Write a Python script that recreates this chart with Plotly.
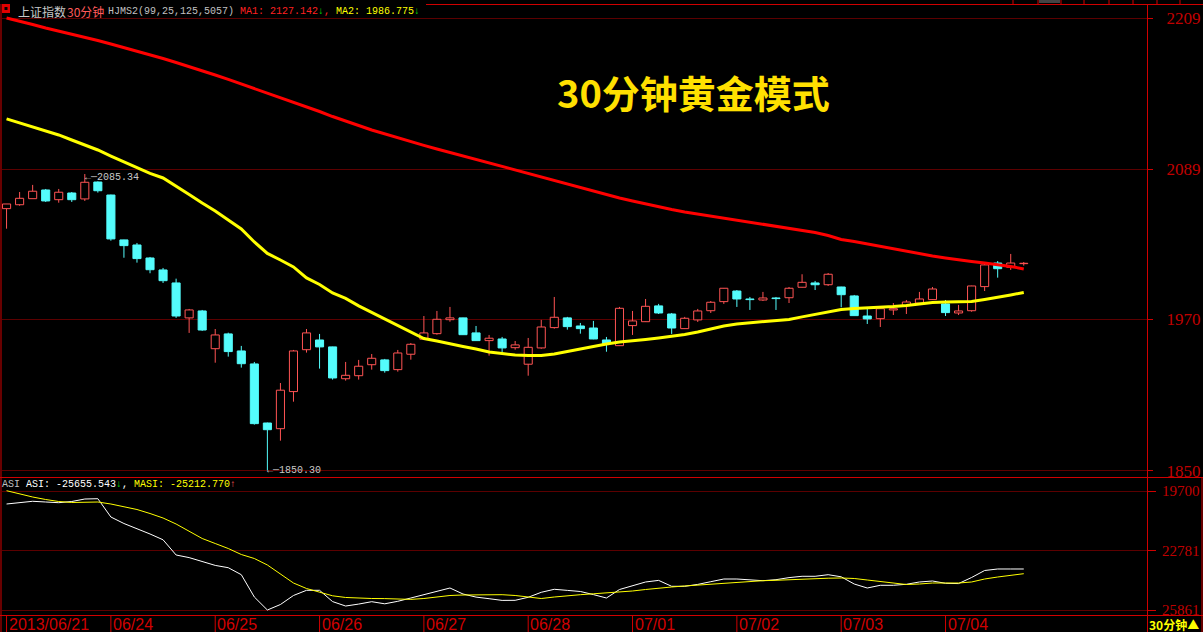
import plotly.graph_objects as go

# ---------------- data ----------------
day_labels = ["2013/06/21", "06/24", "06/25", "06/26", "06/27", "06/28",
              "07/01", "07/02", "07/03", "07/04"]
bars_per_day = 8

opens = [2057.9, 2061.0, 2065.8, 2072.7, 2065.0, 2070.3, 2065.6, 2079.0, 2068.7, 2033.1,
         2029.1, 2018.8, 2009.3, 1999.0, 1971.3, 1976.8, 1946.9, 1958.6, 1945.1, 1934.8,
         1888.0, 1883.5, 1912.9, 1946.1, 1953.8, 1948.3, 1923.1, 1925.5, 1934.2, 1938.0,
         1930.3, 1942.5, 1954.4, 1958.8, 1969.9, 1971.3, 1959.4, 1953.3, 1954.6, 1947.7,
         1934.6, 1947.5, 1963.6, 1971.3, 1964.9, 1963.3, 1953.8, 1949.3, 1965.2, 1968.3,
         1980.8, 1974.4, 1962.8, 1969.7, 1977.0, 1984.2, 1992.6, 1986.3, 1985.5, 1987.1,
         1987.3, 1995.6, 1999.0, 1997.6, 1995.8, 1988.7, 1972.8, 1970.7, 1977.6, 1981.0,
         1983.1, 1985.8, 1982.4, 1975.2, 1977.0, 1996.1, 2014.8, 2011.4, 2014.3]
highs = [2061.6, 2071.1, 2076.7, 2073.5, 2073.5, 2071.1, 2085.34, 2079.5, 2069.0, 2033.3,
         2030.7, 2019.6, 2010.9, 2002.4, 1978.4, 1977.6, 1962.5, 1959.6, 1949.1, 1936.4,
         1888.3, 1919.7, 1945.9, 1962.5, 1958.6, 1948.5, 1936.4, 1938.0, 1942.7, 1938.8,
         1945.9, 1951.4, 1972.8, 1976.8, 1980.0, 1971.5, 1964.9, 1957.8, 1956.2, 1953.0,
         1955.4, 1969.7, 1987.9, 1972.1, 1967.3, 1968.9, 1956.2, 1980.0, 1976.8, 1986.3,
         1982.4, 1975.2, 1972.1, 1978.4, 1984.7, 1995.0, 1993.4, 1987.9, 1991.9, 1987.9,
         1995.8, 2005.9, 2000.6, 2006.9, 1996.0, 1989.5, 1978.4, 1978.8, 1983.1, 1985.5,
         1991.9, 1995.8, 1985.5, 1981.6, 1996.8, 2014.1, 2016.4, 2022.0, 2015.6]
lows = [2042.0, 2060.2, 2065.8, 2063.2, 2062.6, 2063.2, 2064.0, 2070.6, 2032.5, 2019.0,
        2015.1, 2006.7, 1999.0, 1971.3, 1959.4, 1961.0, 1935.8, 1940.6, 1931.9, 1886.7,
        1850.30, 1874.0, 1904.9, 1943.8, 1931.1, 1922.4, 1921.6, 1922.4, 1930.3, 1927.9,
        1928.7, 1938.2, 1953.8, 1958.0, 1968.3, 1957.8, 1953.0, 1941.4, 1944.1, 1946.1,
        1925.5, 1946.9, 1962.8, 1962.0, 1958.8, 1954.4, 1944.5, 1949.1, 1957.8, 1968.1,
        1974.4, 1958.6, 1962.6, 1968.1, 1975.2, 1982.4, 1980.0, 1977.6, 1984.7, 1977.6,
        1983.1, 1995.4, 1993.4, 1996.6, 1979.7, 1972.9, 1966.5, 1964.1, 1973.6, 1974.4,
        1982.9, 1985.6, 1972.8, 1973.6, 1976.2, 1992.6, 2003.2, 2009.3, 2012.7]
closes = [2061.6, 2066.1, 2071.7, 2064.0, 2070.9, 2065.0, 2078.8, 2072.1, 2033.9, 2028.6,
          2018.3, 2009.5, 2000.8, 1972.8, 1977.6, 1961.7, 1957.8, 1944.6, 1935.0, 1887.5,
          1882.7, 1914.0, 1945.1, 1959.4, 1948.3, 1923.7, 1925.8, 1933.0, 1939.3, 1929.5,
          1943.5, 1950.4, 1959.4, 1970.2, 1971.3, 1958.0, 1953.3, 1955.2, 1947.5, 1949.9,
          1948.0, 1964.1, 1971.8, 1964.4, 1962.8, 1954.6, 1950.7, 1978.9, 1968.9, 1980.5,
          1975.2, 1963.3, 1971.0, 1976.8, 1983.7, 1994.8, 1986.3, 1985.8, 1987.1, 1986.6,
          1994.8, 1999.5, 1997.6, 2005.9, 1989.7, 1973.1, 1970.5, 1978.6, 1978.6, 1983.9,
          1986.3, 1994.2, 1975.5, 1976.8, 1996.6, 2013.3, 2010.3, 2014.8, 2014.6]

ma1 = [2209.0, 2206.6, 2203.9, 2201.1, 2198.7, 2196.3, 2193.9, 2191.2, 2188.4, 2185.6,
       2182.9, 2179.7, 2176.9, 2173.7, 2170.6, 2167.4, 2163.8, 2160.3, 2156.7, 2153.1,
       2149.6, 2146.0, 2142.4, 2138.9, 2134.9, 2130.9, 2127.1, 2123.8, 2120.2, 2117.1,
       2113.9, 2110.7, 2108.0, 2105.2, 2102.4, 2099.6, 2096.9, 2094.1, 2091.3, 2088.5,
       2085.8, 2083.0, 2080.2, 2077.4, 2074.7, 2071.9, 2069.1, 2066.4, 2064.0, 2061.6,
       2059.2, 2057.2, 2055.3, 2053.7, 2052.1, 2050.5, 2048.9, 2047.4, 2045.8, 2044.2,
       2042.6, 2041.0, 2039.0, 2036.6, 2033.5, 2031.9, 2029.9, 2027.9, 2025.9, 2023.9,
       2022.0, 2020.4, 2018.8, 2017.2, 2016.0, 2014.8, 2013.6, 2012.1, 2010.1]
ma2 = [2129.0, 2125.8, 2122.6, 2119.5, 2116.3, 2112.3, 2108.4, 2104.4, 2099.6, 2094.9,
       2090.1, 2085.8, 2082.2, 2075.9, 2069.1, 2062.4, 2056.1, 2048.9, 2041.8, 2031.5,
       2022.4, 2017.2, 2011.7, 2003.0, 1997.8, 1991.1, 1986.8, 1980.8, 1975.6, 1970.5,
       1965.3, 1960.2, 1955.0, 1953.0, 1950.6, 1948.7, 1946.7, 1944.3, 1943.1, 1941.9,
       1941.5, 1941.5, 1942.7, 1944.7, 1947.1, 1949.1, 1950.6, 1952.2, 1953.0, 1954.2,
       1955.4, 1956.6, 1958.2, 1960.2, 1962.5, 1964.9, 1966.5, 1967.3, 1968.1, 1968.9,
       1970.1, 1972.1, 1974.0, 1976.4, 1978.0, 1978.8, 1979.2, 1979.6, 1980.4, 1981.2,
       1982.4, 1983.5, 1983.9, 1983.9, 1984.3, 1985.9, 1987.5, 1989.5, 1991.5]

asi = [-20373, -20295, -20233, -20270, -20306, -20244, -20114, -20099, -21046, -21383,
       -21636, -21926, -22226, -23013, -23148, -23345, -23552, -23671, -24033, -25188,
       -25861, -25577, -25110, -24841, -24841, -25426, -25655.543, -25555, -25431, -25540,
       -25411, -25240, -25069, -24888, -24722, -25033, -25193, -25276, -25364, -25359,
       -25203, -24945, -24789, -24846, -24903, -25064, -25240, -24800, -24587, -24411,
       -24328, -24634, -24634, -24536, -24396, -24256, -24256, -24308, -24344, -24292,
       -24184, -24116, -24116, -24033, -24142, -24515, -24722, -24582, -24582, -24530,
       -24411, -24360, -24479, -24494, -24178, -23816, -23738, -23738, -23738]
masi = [-19684, -19855, -20011, -20140, -20244, -20295, -20295, -20270, -20373, -20502,
        -20658, -20865, -21098, -21409, -21797, -22159, -22418, -22677, -22988, -23195,
        -23531, -23997, -24463, -24748, -24955, -25126, -25212.770, -25255, -25266, -25271,
        -25302, -25312, -25266, -25188, -25110, -25084, -25069, -25064, -25069, -25110,
        -25188, -25266, -25188, -25110, -25069, -25022, -24981, -24955, -24877, -24800,
        -24722, -24670, -24618, -24567, -24515, -24473, -24427, -24385, -24344, -24323,
        -24292, -24246, -24230, -24215, -24204, -24230, -24308, -24385, -24463, -24541,
        -24515, -24463, -24463, -24463, -24411, -24256, -24153, -24075, -23982]

price_ticks = [1850, 1970, 2089, 2209]
asi_ticks = [-19700, -22781, -25861]
asi_tick_text = ["19700", "22781", "25861"]

ma1_now, ma2_now = 2127.142, 1986.775
asi_now, masi_now = -25655.543, -25212.770
high_mark, low_mark = 2085.34, 1850.30

# ---------------- styling ----------------
W, H = 1203, 632
ML, MR, MT, MB = 2, 56, 4, 17
PW, PH = W - ML - MR, H - MT - MB


def px(x):
    return (x - ML) / PW


def py(y):
    return (H - MB - y) / PH


UP = "#ff5454"
DN = "#54fcfc"
BORDER = "#d00000"
GRID = "#5c0000"
TICKC = "#c00000"
MONO = "Liberation Mono, DejaVu Sans Mono, monospace"
CJK = "Noto Sans CJK SC, sans-serif"

n = len(opens)
idx = list(range(n))
up = [i for i in idx if closes[i] >= opens[i]]
dn = [i for i in idx if closes[i] < opens[i]]

fig = go.Figure()


def body_trace(ids, fill, edge):
    return go.Bar(
        x=ids,
        base=[min(opens[i], closes[i]) for i in ids],
        y=[max(abs(closes[i] - opens[i]), 0.3) for i in ids],
        width=0.62,
        marker=dict(color=fill, line=dict(color=edge, width=1)),
        xaxis="x", yaxis="y", hoverinfo="skip",
    )


def wick_trace(ids, color):
    xs, ys = [], []
    for i in ids:
        top = max(opens[i], closes[i])
        bot = min(opens[i], closes[i])
        xs += [i, i, None, i, i, None]
        ys += [highs[i], top, None, bot, lows[i], None]
    return go.Scatter(x=xs, y=ys, mode="lines", line=dict(color=color, width=1),
                      xaxis="x", yaxis="y", hoverinfo="skip")


fig.add_trace(wick_trace(up, UP))
fig.add_trace(wick_trace(dn, DN))
fig.add_trace(body_trace(up, "#000000", UP))
fig.add_trace(body_trace(dn, DN, DN))
fig.add_trace(go.Scatter(x=idx, y=ma1, mode="lines", line=dict(color="#ff0000", width=3),
                         xaxis="x", yaxis="y", hoverinfo="skip"))
fig.add_trace(go.Scatter(x=idx, y=ma2, mode="lines", line=dict(color="#ffff00", width=3),
                         xaxis="x", yaxis="y", hoverinfo="skip"))
fig.add_trace(go.Scatter(x=idx, y=asi, mode="lines", line=dict(color="#ffffff", width=1),
                         xaxis="x2", yaxis="y2", hoverinfo="skip"))
fig.add_trace(go.Scatter(x=idx, y=masi, mode="lines", line=dict(color="#ffff00", width=1),
                         xaxis="x2", yaxis="y2", hoverinfo="skip"))

xr = [-0.35, 87.45]
axis_common = dict(range=xr, visible=False, fixedrange=True)

annotations = []
# header line of main panel
annotations.append(dict(xref="paper", yref="paper", x=px(16), y=py(11), xanchor="left",
                        yanchor="middle", showarrow=False, text="上证指数",
                        font=dict(family=CJK, size=12, color="#c8c8c8")))
annotations.append(dict(xref="paper", yref="paper", x=px(64.5), y=py(11), xanchor="left",
                        yanchor="middle", showarrow=False, text="30分钟",
                        font=dict(family=CJK, size=12, color="#ff5a5a")))
hdr = ("HJMS2(99,25,125,5057) "
       f"<span style='color:#ff2020'>MA1: {ma1_now:.3f}</span>"
       "<span style='color:#00e000'>↓</span><span style='color:#ff2020'>,</span> "
       f"<span style='color:#ffff00'>MA2: {ma2_now:.3f}</span>"
       "<span style='color:#00e000'>↓</span>")
annotations.append(dict(xref="paper", yref="paper", x=px(106), y=py(11), xanchor="left",
                        yanchor="middle", showarrow=False, text=hdr,
                        font=dict(family=MONO, size=10, color="#c0c0c0")))
# header of ASI panel
hdr2 = ("<span style='color:#c0c0c0'>ASI</span> "
        f"<span style='color:#ffffff'>ASI: {asi_now:.3f}</span>"
        "<span style='color:#00e000'>↓</span><span style='color:#ffffff'>,</span> "
        f"<span style='color:#ffff00'>MASI: {masi_now:.3f}</span>"
        "<span style='color:#ff5a5a'>↑</span>")
annotations.append(dict(xref="paper", yref="paper", x=px(0), y=py(484), xanchor="left",
                        yanchor="middle", showarrow=False, text=hdr2,
                        font=dict(family=MONO, size=10, color="#ffffff")))
# title
annotations.append(dict(xref="paper", yref="paper", x=px(693), y=py(92), xanchor="center",
                        yanchor="middle", showarrow=False, text="30分钟黄金模式",
                        font=dict(family=CJK, size=38, color="#ffe000", weight="bold")))
# high / low markers
hi_i = highs.index(max(highs))
lo_i = lows.index(min(lows))
annotations.append(dict(xref="x", yref="y", x=hi_i, y=high_mark, xanchor="left",
                        yanchor="middle", showarrow=False, xshift=-2, yshift=-3,
                        text=f"←─{high_mark:.2f}",
                        font=dict(family=MONO, size=10, color="#c8c8c8")))
annotations.append(dict(xref="x", yref="y", x=lo_i, y=low_mark, xanchor="left",
                        yanchor="middle", showarrow=False, xshift=-2,
                        text=f"←─{low_mark:.2f}",
                        font=dict(family=MONO, size=10, color="#c8c8c8")))
# date labels
shapes = []
for d, lab in enumerate(day_labels):
    xi = d * bars_per_day
    annotations.append(dict(xref="x", yref="paper", x=xi, y=py(624), xanchor="left",
                            yanchor="middle", showarrow=False, xshift=0, text=lab,
                            font=dict(family="Liberation Sans Narrow, Liberation Sans",
                                      size=16, color="#d00000")))
    shapes.append(dict(type="line", xref="x", yref="paper", x0=xi, x1=xi,
                       y0=py(632), y1=py(615), line=dict(color=BORDER, width=1)))
annotations.append(dict(xref="paper", yref="paper", x=px(1148), y=py(624.5), xanchor="left",
                        yanchor="middle", showarrow=False, text="30分钟▲", borderpad=0,
                        font=dict(family=CJK, size=12, color="#ffff00", weight="bold")))


def hline(y, x0, x1, color=BORDER, w=1):
    shapes.append(dict(type="line", xref="paper", yref="paper", x0=px(x0), x1=px(x1),
                       y0=py(y), y1=py(y), line=dict(color=color, width=w)))


def vline(x, y0, y1, color=BORDER, w=1):
    shapes.append(dict(type="line", xref="paper", yref="paper", x0=px(x), x1=px(x),
                       y0=py(y0), y1=py(y1), line=dict(color=color, width=w)))


hline(4.5, 426, 1203)
hline(477.5, 0, 1203)
hline(615.5, 0, 1203)
vline(1, 4, 632)
vline(1147.5, 4, 632)
vline(1202, 477, 632)
for tx in [1013, 1038, 1061, 1084, 1109, 1133, 1157, 1180]:
    vline(tx, 0, 4)
shapes.append(dict(type="rect", xref="paper", yref="paper", x0=px(1039), x1=px(1060),
                   y0=py(3), y1=py(0), fillcolor="#444444", line=dict(width=0)))
shapes.append(dict(type="rect", xref="paper", yref="paper", x0=px(2), x1=px(10),
                   y0=py(13), y1=py(4), fillcolor="#e00000", line=dict(width=0)))
shapes.append(dict(type="rect", xref="paper", yref="paper", x0=px(4.5), x1=px(7.5),
                   y0=py(10), y1=py(7), fillcolor="#000000", line=dict(width=0)))

fig.update_layout(
    width=W, height=H,
    margin=dict(l=ML, r=MR, t=MT, b=MB),
    paper_bgcolor="#000000", plot_bgcolor="#000000",
    showlegend=False, hovermode=False, barmode="overlay",
    xaxis=dict(domain=[0, 1], anchor="y", **axis_common),
    xaxis2=dict(domain=[0, 1], anchor="y2", **axis_common),
    yaxis=dict(domain=[py(477), 1], anchor="x", range=[1845.2, 2220.1], side="right",
               tickvals=price_ticks, ticks="outside", ticklen=5, tickcolor=BORDER,
               tickfont=dict(family="Liberation Serif", size=17, color=TICKC),
               showgrid=True, gridcolor=GRID, gridwidth=1, zeroline=False,
               showline=False, ticklabelstandoff=10, fixedrange=True),
    yaxis2=dict(domain=[0, py(478)], anchor="x2", range=[-26120, -19027], side="right",
                tickvals=asi_ticks, ticktext=asi_tick_text, ticks="outside", ticklen=8,
                tickcolor=BORDER,
                tickfont=dict(family="Liberation Serif", size=15, color=TICKC),
                showgrid=True, gridcolor=GRID, gridwidth=1, zeroline=False,
                showline=False, ticklabelstandoff=3, fixedrange=True),
    annotations=annotations,
    shapes=shapes,
)

fig.write_html(
    "out.html",
    config={"displayModeBar": False, "staticPlot": True},
    post_script="document.body.style.margin='0';document.body.style.padding='0';"
                "document.body.style.background='#000';",
)
